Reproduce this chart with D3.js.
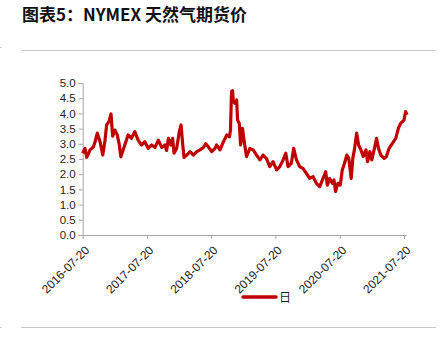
<!DOCTYPE html>
<html>
<head>
<meta charset="utf-8">
<script src="https://cdn.jsdelivr.net/npm/d3@7"></script>
<style>
  body { margin: 0; background: #fff; }
  svg { display: block; }
</style>
</head>
<body>
<div id="chart"></div>
<script>
var title = "图表5：NYMEX 天然气期货价";
var seriesName = "日";
var tickDates = ["2016-07-20", "2017-07-20", "2018-07-20", "2019-07-20", "2020-07-20", "2021-07-20"];
var yTicks = [0, 0.5, 1, 1.5, 2, 2.5, 3, 3.5, 4, 4.5, 5];

var dates = [
  "2016-07-20","2016-08-02","2016-08-12","2016-08-31","2016-09-19","2016-09-28","2016-10-11","2016-10-27",
  "2016-11-11","2016-11-24","2016-12-03","2016-12-16","2016-12-28","2017-01-06","2017-01-19","2017-02-01",
  "2017-02-12","2017-02-22","2017-03-16","2017-04-04","2017-04-23","2017-05-12","2017-05-31","2017-06-19",
  "2017-07-08","2017-07-27","2017-08-16","2017-09-04","2017-09-23","2017-10-12","2017-10-31","2017-11-09",
  "2017-11-19","2017-12-02","2017-12-13","2017-12-21","2018-01-05","2018-01-20","2018-01-30","2018-02-08",
  "2018-02-16","2018-03-03","2018-03-22","2018-04-10","2018-04-29","2018-05-18","2018-06-06","2018-06-19",
  "2018-07-04","2018-07-23","2018-08-11","2018-08-20","2018-09-08","2018-09-28","2018-10-17","2018-11-01",
  "2018-11-07","2018-11-12","2018-11-14","2018-11-16","2018-11-19","2018-11-23","2018-12-02","2018-12-12",
  "2018-12-17","2018-12-27","2019-01-03","2019-01-14","2019-01-24","2019-02-06","2019-02-25","2019-03-16",
  "2019-04-04","2019-04-23","2019-05-11","2019-05-30","2019-06-18","2019-07-07","2019-07-27","2019-08-14",
  "2019-09-02","2019-09-17","2019-09-30","2019-10-19","2019-11-01","2019-11-17","2019-12-05","2019-12-24",
  "2020-01-12","2020-01-31","2020-02-19","2020-03-09","2020-03-28","2020-04-16","2020-05-01","2020-05-10",
  "2020-05-23","2020-06-08","2020-06-17","2020-06-26","2020-07-09","2020-07-23","2020-08-03","2020-08-16",
  "2020-08-29","2020-09-09","2020-09-23","2020-10-02","2020-10-11","2020-10-24","2020-11-04","2020-11-17",
  "2020-11-30","2020-12-16","2020-12-25","2021-01-07","2021-01-18","2021-01-31","2021-02-14","2021-02-25",
  "2021-03-10","2021-03-29","2021-04-11","2021-04-26","2021-05-15","2021-06-03","2021-06-18","2021-07-01",
  "2021-07-20","2021-07-29","2021-08-06"
];
var prices = [
  2.69,2.85,2.55,2.80,2.90,3.06,3.35,3.06,
  2.63,3.12,3.62,3.73,3.98,3.25,3.45,3.30,
  3.00,2.57,2.96,3.29,3.18,3.40,3.12,2.96,
  3.07,2.85,2.96,2.88,3.12,2.88,2.96,2.78,
  3.18,2.96,3.18,2.69,2.85,3.40,3.62,3.00,
  2.55,2.63,2.74,2.63,2.74,2.80,2.88,3.00,
  2.90,2.74,2.85,2.96,2.80,3.07,3.29,3.23,
  3.45,4.55,4.73,4.45,4.75,4.40,4.33,4.44,
  3.78,3.67,2.96,3.51,3.07,2.58,2.85,2.80,
  2.63,2.47,2.63,2.52,2.25,2.41,2.14,2.25,
  2.47,2.69,2.25,2.36,2.85,2.47,2.25,2.19,
  2.03,1.86,1.92,1.70,1.59,1.86,2.08,1.64,
  1.86,1.70,1.81,1.43,1.70,1.64,2.14,2.36,
  2.63,2.52,1.86,2.52,2.80,3.35,2.96,2.80,
  2.58,2.80,2.41,2.74,2.47,2.80,3.18,2.85,
  2.63,2.52,2.58,2.85,3.01,3.18,3.51,3.67,
  3.78,4.06,3.95
];

var parse = d3.timeParse("%Y-%m-%d");
var data = dates.map(function(d, i) { return { date: parse(d), value: prices[i] }; });

var W = 446, H = 354;
var svg = d3.select("#chart").append("svg").attr("width", W).attr("height", H);

var x = d3.scaleTime()
  .domain([parse("2016-07-20"), parse("2021-07-20")])
  .range([82.7, 404]);
var y = d3.scaleLinear().domain([0, 5]).range([235, 83]);

// title and rules
svg.append("text")
  .attr("x", 22).attr("y", 21)
  .attr("font-family", "'Noto Sans CJK SC', sans-serif")
  .attr("font-weight", "bold")
  .attr("font-size", "17px")
  .attr("fill", "#111")
  .text(title);

svg.append("line").attr("x1", 22).attr("x2", 436).attr("y1", 50.5).attr("y2", 50.5)
  .attr("stroke", "#c8c8c8").attr("stroke-width", 1);
svg.append("line").attr("x1", 21).attr("x2", 436).attr("y1", 327.5).attr("y2", 327.5)
  .attr("stroke", "#c8c8c8").attr("stroke-width", 1);
svg.append("line").attr("x1", 0).attr("x2", 2).attr("y1", 47.5).attr("y2", 47.5).attr("stroke", "#ccc");
svg.append("line").attr("x1", 0).attr("x2", 2).attr("y1", 327.5).attr("y2", 327.5).attr("stroke", "#ccc");

var axisFont = "'Liberation Sans', Arial, sans-serif";

// y axis
var yAxis = svg.append("g")
  .attr("transform", "translate(82.7,0)")
  .call(d3.axisLeft(y).tickValues(yTicks).tickFormat(d3.format(".1f")).tickSize(4).tickPadding(3));
yAxis.select(".domain").attr("stroke", "#a6a6a6");
yAxis.selectAll(".tick line").attr("stroke", "#a6a6a6");
yAxis.selectAll("text").attr("font-family", axisFont).attr("font-size", "11.5px").attr("fill", "#222");

// x axis
var xAxis = svg.append("g")
  .attr("transform", "translate(0,235)")
  .call(d3.axisBottom(x).tickValues(tickDates.map(parse)).tickFormat(d3.timeFormat("%Y-%m-%d")).tickSizeOuter(0).tickSize(4));
xAxis.select(".domain").attr("d", "M82.7,0.5H406.5").attr("stroke", "#a6a6a6");
xAxis.selectAll(".tick line").attr("stroke", "#a6a6a6");
xAxis.selectAll("text")
  .attr("font-family", axisFont).attr("font-size", "12px").attr("fill", "#222")
  .attr("text-anchor", "end")
  .attr("dy", "0.35em")
  .attr("transform", "translate(-1,8) rotate(-45)");

// series line
var line = d3.line()
  .x(function(d) { return x(d.date); })
  .y(function(d) { return y(d.value); });

svg.append("path")
  .datum(data)
  .attr("d", line)
  .attr("fill", "none")
  .attr("stroke", "#c00000")
  .attr("stroke-width", 3.2)
  .attr("stroke-linejoin", "round");

// legend
svg.append("line").attr("x1", 243).attr("x2", 276).attr("y1", 297).attr("y2", 297)
  .attr("stroke", "#c00000").attr("stroke-width", 3.5).attr("stroke-linecap", "round");
svg.append("text").attr("x", 279).attr("y", 302)
  .attr("font-family", "'Noto Sans CJK SC', sans-serif")
  .attr("font-size", "12px").attr("fill", "#222")
  .text(seriesName);
</script>
</body>
</html>
